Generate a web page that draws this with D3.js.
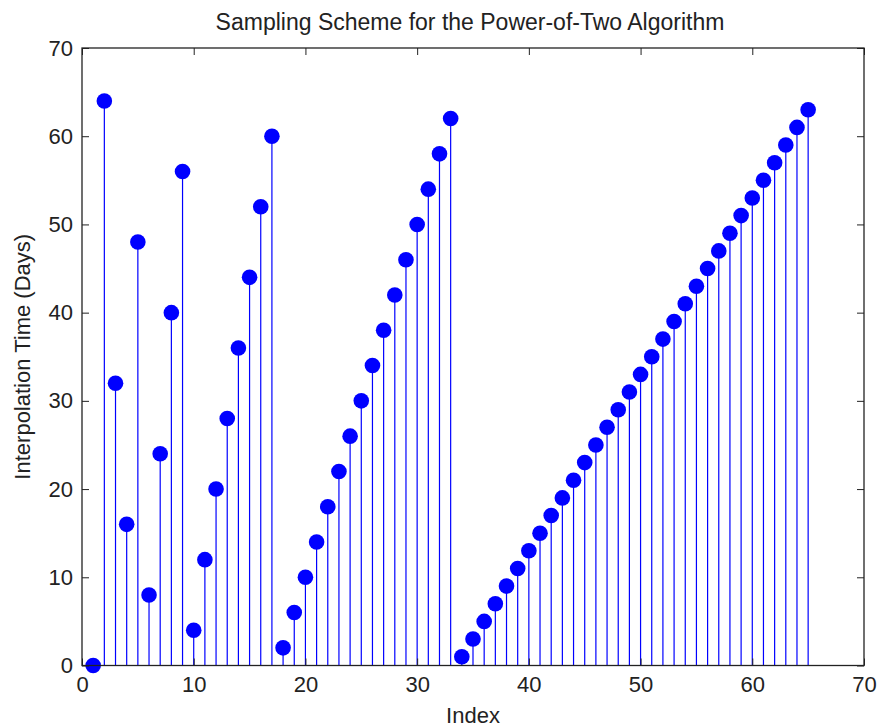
<!DOCTYPE html>
<html>
<head>
<meta charset="utf-8">
<script src="https://cdn.jsdelivr.net/npm/d3@7"></script>
<style>
  html, body { margin: 0; padding: 0; background: #fff; }
  svg { display: block; }
  text { font-family: "Liberation Sans", Arial, sans-serif; fill: #222; }
</style>
</head>
<body>
<svg id="chart" width="882" height="727"></svg>
<script>
// Sample index and the interpolation time (days) chosen at each step
const sampleIndex = [
  1, 2, 3, 4, 5, 6, 7, 8, 9, 10, 11, 12, 13, 14, 15, 16, 17,
  18, 19, 20, 21, 22, 23, 24, 25, 26, 27, 28, 29, 30, 31, 32, 33,
  34, 35, 36, 37, 38, 39, 40, 41, 42, 43, 44, 45, 46, 47, 48, 49,
  50, 51, 52, 53, 54, 55, 56, 57, 58, 59, 60, 61, 62, 63, 64, 65
];
const interpDays = [
  0, 64, 32, 16, 48, 8, 24, 40, 56, 4, 12, 20, 28, 36, 44, 52, 60,
  2, 6, 10, 14, 18, 22, 26, 30, 34, 38, 42, 46, 50, 54, 58, 62,
  1, 3, 5, 7, 9, 11, 13, 15, 17, 19, 21, 23, 25, 27, 29, 31,
  33, 35, 37, 39, 41, 43, 45, 47, 49, 51, 53, 55, 57, 59, 61, 63
];
const xTicks = [0, 10, 20, 30, 40, 50, 60, 70];
const yTicks = [0, 10, 20, 30, 40, 50, 60, 70];

const titleText = "Sampling Scheme for the Power-of-Two Algorithm";
const xLabelText = "Index";
const yLabelText = "Interpolation Time (Days)";

const svg = d3.select("#chart");
const plot = { left: 82, right: 864, top: 48, bottom: 665.5 };

const x = d3.scaleLinear().domain([0, 70]).range([plot.left, plot.right]);
const y = d3.scaleLinear().domain([0, 70]).range([plot.bottom, plot.top]);

const blue = "#0000ff";
const axisColor = "#222";
const tickLen = 7;
const labelFont = 22;

// Stems
const stems = svg.append("g");
sampleIndex.forEach((ix, i) => {
  stems.append("line")
    .attr("x1", x(ix)).attr("x2", x(ix))
    .attr("y1", y(0)).attr("y2", y(interpDays[i]))
    .attr("stroke", blue).attr("stroke-width", 1.2);
});

// Baseline at zero
svg.append("line")
  .attr("x1", plot.left).attr("x2", plot.right)
  .attr("y1", y(0)).attr("y2", y(0))
  .attr("stroke", axisColor).attr("stroke-width", 1);

// Markers
svg.append("g").selectAll("circle")
  .data(sampleIndex)
  .join("circle")
  .attr("cx", d => x(d))
  .attr("cy", (d, i) => y(interpDays[i]))
  .attr("r", 7.8)
  .attr("fill", blue);

// Axes with inward ticks on all four sides
const axes = svg.append("g");
const bottomAxis = d3.axisBottom(x).tickValues(xTicks).tickSize(-tickLen).tickPadding(11).tickFormat(d3.format("d"));
const topAxis = d3.axisTop(x).tickValues(xTicks).tickSize(-tickLen).tickFormat("");
const leftAxis = d3.axisLeft(y).tickValues(yTicks).tickSize(-tickLen).tickPadding(9).tickFormat(d3.format("d"));
const rightAxis = d3.axisRight(y).tickValues(yTicks).tickSize(-tickLen).tickFormat("");

function styleAxis(g) {
  g.select(".domain").remove();
  g.selectAll(".tick line").attr("stroke", axisColor).attr("stroke-width", 1);
  g.selectAll(".tick text").attr("font-size", labelFont).attr("fill", "#222")
    .attr("font-family", "'Liberation Sans', Arial, sans-serif");
}

axes.append("g").attr("transform", `translate(0,${plot.bottom})`).call(bottomAxis).call(styleAxis);
axes.append("g").attr("transform", `translate(0,${plot.top})`).call(topAxis).call(styleAxis);
axes.append("g").attr("transform", `translate(${plot.left},0)`).call(leftAxis).call(styleAxis);
axes.append("g").attr("transform", `translate(${plot.right},0)`).call(rightAxis).call(styleAxis);

// Box around the plot area
svg.append("rect")
  .attr("x", plot.left).attr("y", plot.top)
  .attr("width", plot.right - plot.left).attr("height", plot.bottom - plot.top)
  .attr("fill", "none").attr("stroke", axisColor).attr("stroke-width", 1.3);

// Title and axis labels
svg.append("text")
  .attr("x", (plot.left + plot.right) / 2 - 3).attr("y", 30)
  .attr("text-anchor", "middle").attr("font-size", 23)
  .text(titleText);

svg.append("text")
  .attr("x", (plot.left + plot.right) / 2).attr("y", 723)
  .attr("text-anchor", "middle").attr("font-size", labelFont)
  .text(xLabelText);

svg.append("text")
  .attr("transform", `translate(30,${(plot.top + plot.bottom) / 2}) rotate(-90)`)
  .attr("text-anchor", "middle").attr("font-size", labelFont)
  .text(yLabelText);
</script>
</body>
</html>
